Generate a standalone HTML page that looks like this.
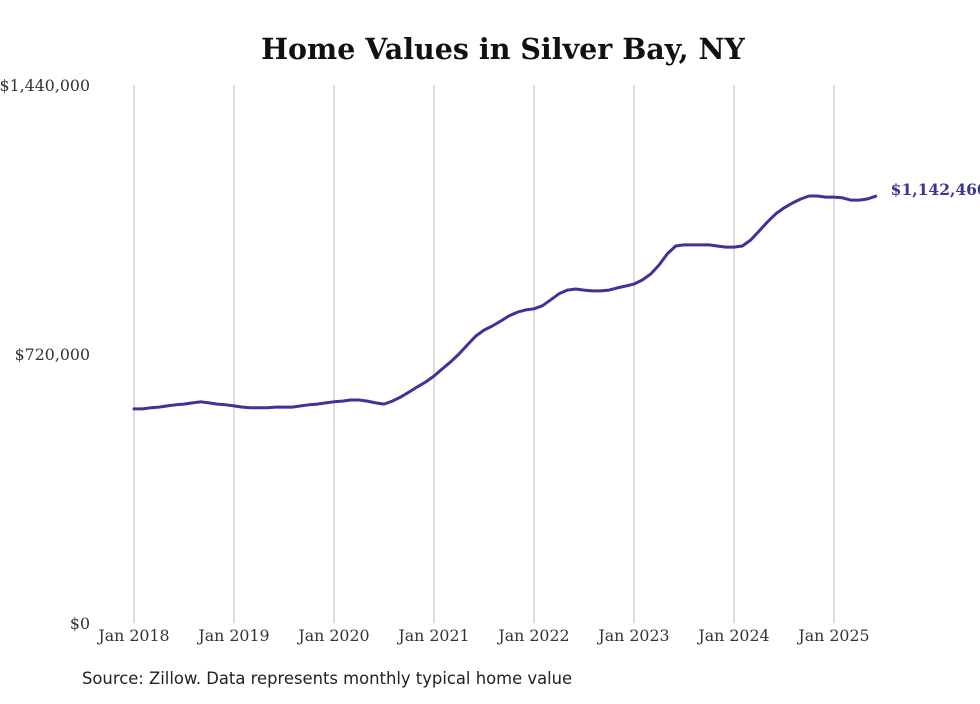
<!DOCTYPE html>
<html><head><meta charset="utf-8"><style>
body{margin:0;background:#fff;}
svg text{font-family:"DejaVu Serif","Liberation Serif",serif;}
</style></head><body>
<svg id="chart" width="980" height="699" viewBox="0 0 980 699" xmlns="http://www.w3.org/2000/svg">
<text x="503" y="59" text-anchor="middle" font-size="28.5" font-weight="bold" fill="#111">Home Values in Silver Bay, NY</text>
<g id="grid"></g><g id="yticks"></g><g id="xticks"></g><g id="series"></g>
<text x="82" y="684" font-size="16.4" fill="#222" style="font-family:'DejaVu Sans','Liberation Sans',sans-serif">Source: Zillow. Data represents monthly typical home value</text>
</svg>
<script>
// monthly values (thousands USD), Jan 2018 .. Jun 2025
const values=[
573,573,576,578,581,584,586,589,592,589,586,584,
581,578,576,576,576,578,578,578,581,584,586,589,
592,594,597,597,594,589,586,594,605,618,632,645,
661,680,699,720,744,768,784,795,808,822,832,838,
841,849,865,881,891,894,891,889,889,891,897,902,
907,918,934,958,988,1009,1012,1012,1012,1012,1009,1006,
1006,1009,1025,1049,1073,1095,1111,1124,1135,1143,1143,1140,
1140,1138,1132,1132,1135,1142.46];
const yTickVals=[0,720000,1440000];
const yTickLabels=["$0","$720,000","$1,440,000"];
const xTickLabels=["Jan 2018","Jan 2019","Jan 2020","Jan 2021","Jan 2022","Jan 2023","Jan 2024","Jan 2025"];
const xTickMonths=[0,12,24,36,48,60,72,84];
const lastLabel="$1,142,460";
const ns="http://www.w3.org/2000/svg";
const X=m=>134+m*(100/12);
const Y=v=>623-v/1440000*538;
function mk(t,a,p){const e=document.createElementNS(ns,t);for(const k in a)e.setAttribute(k,a[k]);p.appendChild(e);return e;}
const grid=document.getElementById('grid'),yt=document.getElementById('yticks'),xt=document.getElementById('xticks'),sr=document.getElementById('series');
xTickMonths.forEach((m,i)=>{
 const l=mk('line',{x1:X(m),x2:X(m),y1:85,y2:623,stroke:'#bbb','stroke-width':1},grid);
 
 
 const t=mk('text',{x:X(m),y:641,'text-anchor':'middle','font-size':15.8,fill:'#333'},xt);
 t.textContent=xTickLabels[i];
 
 
});
yTickVals.forEach((v,i)=>{
 const t=mk('text',{x:90,y:Y(v)+6,'text-anchor':'end','font-size':15.8,fill:'#333'},yt);
 t.textContent=yTickLabels[i];
 
 
});
let d='';values.forEach((v,i)=>{d+=(i?'L':'M')+X(i).toFixed(1)+','+Y(v*1000).toFixed(1);});
const p=mk('path',{d:d,fill:'none',stroke:'#3b3599','stroke-width':3,'stroke-linejoin':'round','stroke-linecap':'round'},sr);


const li=values.length-1;
const lt=mk('text',{x:X(li)+15,y:Y(values[li]*1000)-1,'font-size':15.5,'font-weight':'bold',fill:'#3b3599'},sr);
lt.textContent=lastLabel;


</script>
</body></html>
